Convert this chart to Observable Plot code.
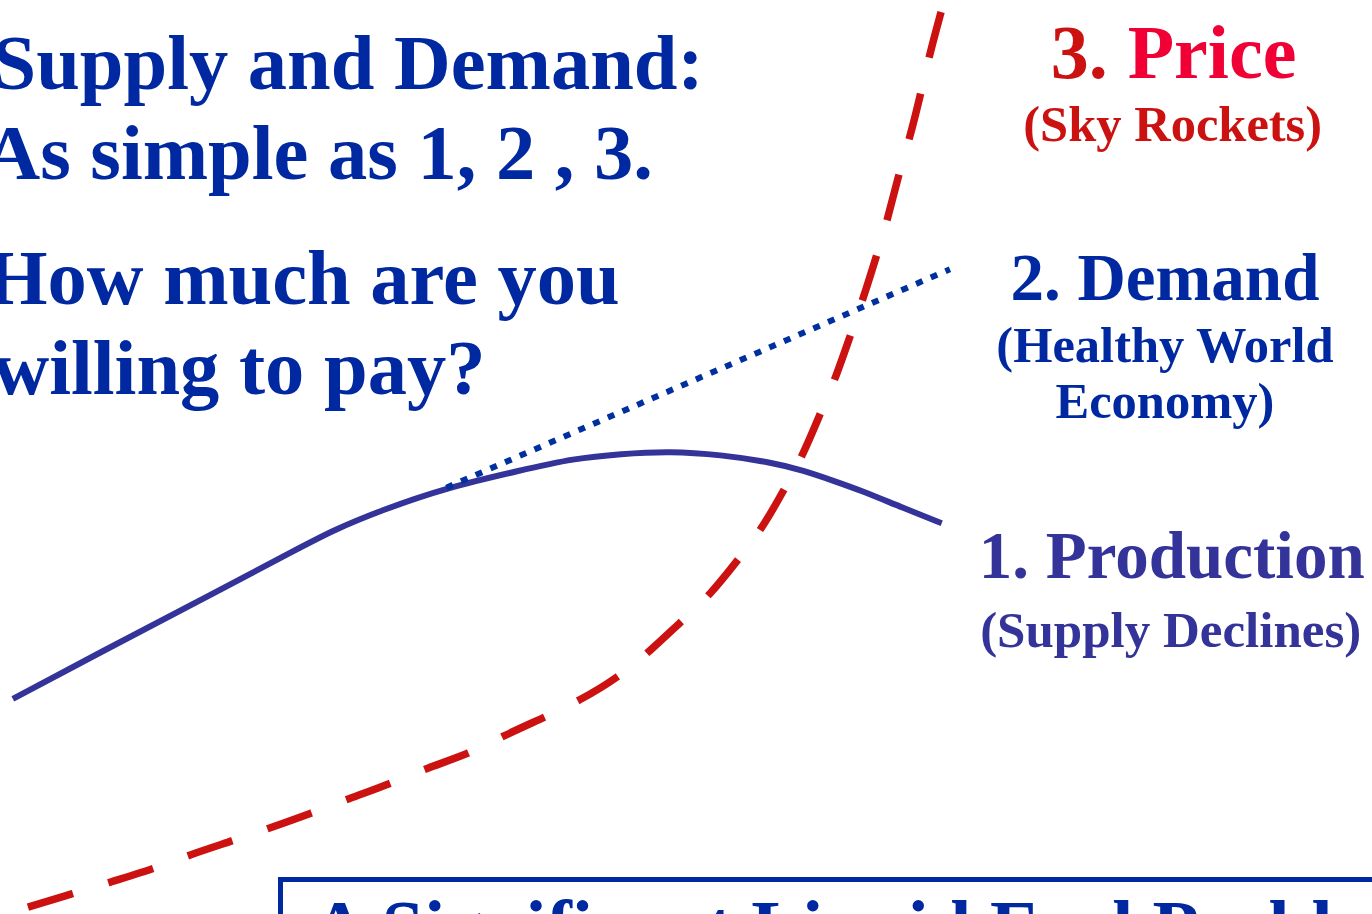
<!DOCTYPE html>
<html>
<head>
<meta charset="utf-8">
<script src="https://cdn.jsdelivr.net/npm/d3@7"></script>
<script src="https://cdn.jsdelivr.net/npm/@observablehq/plot@0.6"></script>
<style>
  html, body { margin: 0; padding: 0; background: #fff; overflow: hidden; }
  #wrap { position: relative; width: 1372px; height: 914px; overflow: hidden; background: #fff; }
  #callout { position: absolute; left: 278px; top: 877px; width: 1200px; height: 200px;
             border: 5px solid #0028a0; box-sizing: border-box; background: #fff; }
  #callout-text { position: absolute; left: 312px; top: 889px; font: bold 76px "Liberation Serif", serif;
                  line-height: 76px; color: #0028a0; white-space: nowrap; }
</style>
</head>
<body>
<div id="wrap"></div>
<script>
// ---- Data (abstract units: t = time 0..100, v = level 0..100) ----
const seriesNames = ["Production", "Demand", "Price"];

const productionT = [0.9, 7.3, 14.6, 21.9, 24.2, 27.7, 32.5, 37.9, 41.8, 45.2, 48.8, 52.5, 56.1, 58.5, 61.0, 62.7, 65.6, 68.6];
const productionV = [23.6, 28.7, 34.4, 40.2, 42.0, 44.2, 46.7, 48.6, 49.9, 50.4, 50.7, 50.3, 49.5, 48.6, 47.3, 46.4, 44.6, 42.8];

const demandT = [32.5, 69.2];
const demandV = [46.7, 70.6];

const priceT = [2.0, 5.3, 7.9, 11.2, 13.7, 17.0, 19.5, 22.7, 25.4, 28.4, 31.0, 34.2, 36.7, 39.7, 42.2, 45.0, 47.4, 49.5, 51.7, 53.9, 55.5, 57.2, 58.5, 59.8, 60.9, 62.0, 62.9, 63.9, 64.7, 65.5, 66.3, 67.1, 67.7, 68.6];
const priceV = [0.8, 2.3, 3.5, 5.0, 6.5, 8.1, 9.4, 11.1, 12.7, 14.3, 16.0, 17.6, 19.6, 21.6, 23.4, 25.9, 28.9, 31.9, 34.9, 39.1, 42.2, 46.7, 50.3, 55.0, 58.8, 63.6, 67.5, 72.3, 76.3, 81.2, 85.1, 90.0, 94.0, 99.0];

const headlines = ["1. Production", "2. Demand", "3. Price"];
const sublines = ["(Supply Declines)", "(Healthy World\nEconomy)", "(Sky Rockets)"];
const titleLines = ["Supply and Demand:", "As simple as 1, 2 , 3.", "How much are you", "willing to pay?"];
const calloutText = "A Significant Liquid Fuel Problem";

// ---- Build tables ----
const rows = (name, ts, vs) => ts.map((t, i) => ({series: name, t, v: vs[i]}));
const production = rows(seriesNames[0], productionT, productionV);
const demand = rows(seriesNames[1], demandT, demandV);
const price = rows(seriesNames[2], priceT, priceV);
const lastOf = a => [a[a.length - 1]];

const FONT = "Liberation Serif, Times New Roman, serif";
const BLUE = "#0028a0";
const PURPLE = "#333399";
const RED = "#cc1111";
const CRIMSON = "#f00035";

const [priceNum, priceWord] = headlines[2].split(" ");

const titleBaselines = [88, 178, 303, 393];
const titleDx = [-8, -17, -14, -8];

const chart = Plot.plot({
  width: 1372,
  height: 914,
  margin: 0,
  x: {domain: [0, 100], axis: null},
  y: {domain: [0, 100], axis: null},
  style: {background: "white", fontFamily: FONT},
  marks: [
    // title lines
    ...titleLines.map((s, i) => Plot.text([s], {
      frameAnchor: "top-left", text: d => d, textAnchor: "start", lineAnchor: "bottom",
      dx: titleDx[i], dy: titleBaselines[i],
      fontSize: 78.5, fontWeight: "bold", fontFamily: FONT, fill: BLUE
    })),
    // series
    Plot.line(price, {x: "t", y: "v", stroke: RED, strokeWidth: 7.5, strokeDasharray: "47,37",
                      strokeLinecap: "butt", curve: "basis"}),
    Plot.line(production, {x: "t", y: "v", stroke: PURPLE, strokeWidth: 6,
                           strokeLinecap: "butt", curve: "basis"}),
    Plot.line(demand, {x: "t", y: "v", stroke: "#0030a0", strokeWidth: 6, strokeDasharray: "7,9",
                       strokeLinecap: "butt"}),
    // labels at series ends
    Plot.text(lastOf(production), {x: "t", y: "v", text: () => headlines[0], textAnchor: "middle",
      lineAnchor: "bottom", dx: 230, dy: 55, fontSize: 67, fontWeight: "bold", fontFamily: FONT, fill: PURPLE}),
    Plot.text(lastOf(production), {x: "t", y: "v", text: () => sublines[0], textAnchor: "middle",
      lineAnchor: "bottom", dx: 229, dy: 124, fontSize: 51, fontWeight: "bold", fontFamily: FONT, fill: PURPLE}),
    Plot.text(lastOf(demand), {x: "t", y: "v", text: () => headlines[1], textAnchor: "middle",
      lineAnchor: "bottom", dx: 215, dy: 31, fontSize: 67, fontWeight: "bold", fontFamily: FONT, fill: BLUE}),
    Plot.text(lastOf(demand), {x: "t", y: "v", text: () => sublines[1], textAnchor: "middle",
      lineAnchor: "bottom", lineHeight: 1.11, dx: 215, dy: 149, fontSize: 50.5, fontWeight: "bold", fontFamily: FONT, fill: BLUE}),
    Plot.text(lastOf(price), {x: "t", y: "v", text: () => priceNum, textAnchor: "end",
      lineAnchor: "bottom", dx: 166, dy: 68, fontSize: 76, fontWeight: "bold", fontFamily: FONT, fill: RED}),
    Plot.text(lastOf(price), {x: "t", y: "v", text: () => priceWord, textAnchor: "start",
      lineAnchor: "bottom", dx: 186, dy: 68, fontSize: 76, fontWeight: "bold", fontFamily: FONT, fill: CRIMSON}),
    Plot.text(lastOf(price), {x: "t", y: "v", text: () => sublines[2], textAnchor: "middle",
      lineAnchor: "bottom", dx: 231, dy: 131, fontSize: 50.5, fontWeight: "bold", fontFamily: FONT, fill: RED})
  ]
});

const wrap = document.getElementById("wrap");
wrap.appendChild(chart);
const box = document.createElement("div");
box.id = "callout";
wrap.appendChild(box);
const boxText = document.createElement("div");
boxText.id = "callout-text";
boxText.textContent = calloutText;
wrap.appendChild(boxText);
</script>
</body>
</html>
